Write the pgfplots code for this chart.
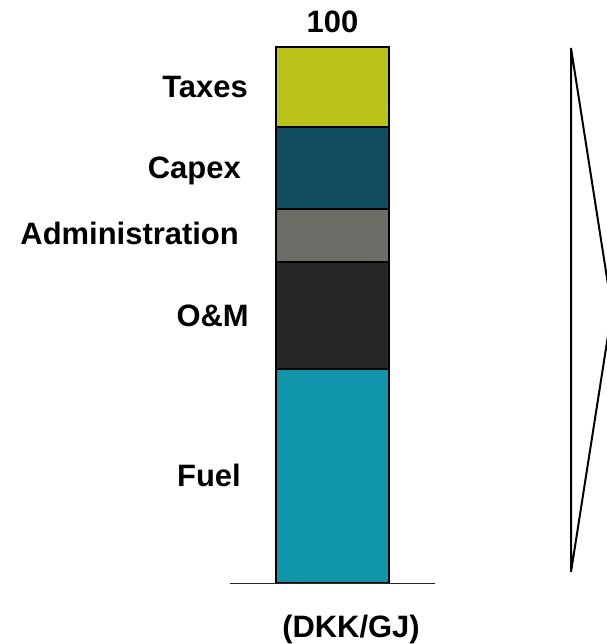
\documentclass[border=0pt]{standalone}
\usepackage{pgfplots}
\pgfplotsset{compat=1.18}
\usepackage{fontspec}
\setmainfont{Liberation Sans}
\definecolor{ctax}{RGB}{186,196,24}
\definecolor{ccapex}{RGB}{17,75,95}
\definecolor{cadmin}{RGB}{106,110,103}
\definecolor{com}{RGB}{38,38,38}
\definecolor{cfuel}{RGB}{17,149,171}
\begin{document}
\begin{tikzpicture}
\pgfplotsset{common/.style={scale only axis, width=455.25pt, height=483pt,
  xmin=0, xmax=607, ymin=-11.31, ymax=108.70, hide axis, anchor=south west, at={(0pt,0pt)}}}
\begin{axis}[common, clip=false, ybar stacked, bar width=113]
\addplot[draw=black, line width=1.5pt, fill=cfuel] coordinates {(332.5,40.0)};
\addplot[draw=black, line width=1.5pt, fill=com] coordinates {(332.5,19.8)};
\addplot[draw=black, line width=1.5pt, fill=cadmin] coordinates {(332.5,10.0)};
\addplot[draw=black, line width=1.5pt, fill=ccapex] coordinates {(332.5,15.2)};
\addplot[draw=black, line width=1.5pt, fill=ctax] coordinates {(332.5,15.0)};
\end{axis}
\begin{axis}[common, clip=true]
\addplot[black!85, line width=1.1pt] coordinates {(230,0) (435,0)};
\addplot[black, line width=1.5pt] coordinates {(571,99.76) (612,50.93) (571,2.11) (571,99.76)};
\end{axis}
\begin{axis}[common, clip=false]
\begin{scope}[every node/.style={font=\bfseries\fontsize{23.2}{27}\selectfont, inner sep=0pt}]
\node[anchor=base east] at (axis cs:248,90.50) {Taxes};
\node[anchor=base east] at (axis cs:241,75.35) {Capex};
\node[anchor=base east] at (axis cs:239,63.05) {Administration};
\node[anchor=base east] at (axis cs:249,47.82) {O\&M};
\node[anchor=base east] at (axis cs:241,17.95) {Fuel};
\node[anchor=base] at (axis cs:332.5,102.68) {100};
\node[anchor=base] at (axis cs:351,-10.01) {(DKK/GJ)};
\end{scope}
\end{axis}
\pgfresetboundingbox
\useasboundingbox (0pt,0pt) rectangle (455.25pt,483pt);
\end{tikzpicture}
\end{document}
